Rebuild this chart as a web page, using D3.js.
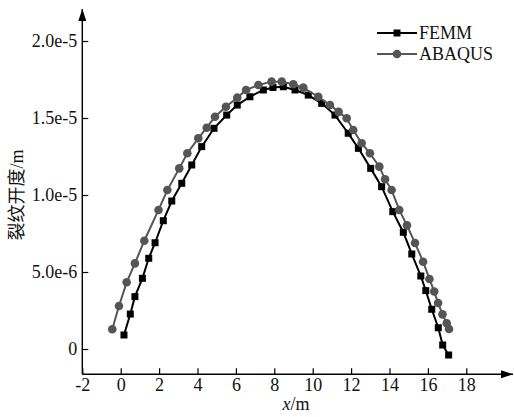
<!DOCTYPE html>
<html>
<head>
<meta charset="utf-8">
<script src="https://cdn.jsdelivr.net/npm/d3@7"></script>
<style>
  body { margin: 0; background: #fff; }
</style>
</head>
<body>
<div id="container"></div>
<script>
/* CONSTANTS AND GLOBALS */
const width = 514, height = 417;
const serif = "'Liberation Serif'";
const cjk = "'Noto Sans CJK SC'";

// FEMM series (x in m, opening in 1e-6 m)
const femmX = [0.17, 0.50, 0.74, 1.13, 1.46, 1.79, 2.22, 2.66, 3.18, 3.70, 4.22, 4.86, 5.52, 6.07, 6.73, 7.43, 7.93, 8.47, 9.08, 9.77, 10.47, 11.16, 11.85, 12.38, 13.02, 13.59, 14.17, 14.72, 15.16, 15.63, 15.89, 16.20, 16.54, 16.77, 17.08];
const femmY = [0.91, 2.27, 3.40, 4.59, 5.89, 6.90, 8.33, 9.61, 10.76, 11.95, 13.14, 14.33, 15.19, 15.84, 16.38, 16.82, 16.98, 17.03, 16.82, 16.49, 15.95, 15.19, 14.01, 13.03, 11.73, 10.54, 8.92, 7.58, 6.17, 4.74, 3.79, 2.58, 1.38, 0.26, -0.39];

// ABAQUS series
const abaqusX = [-0.44, -0.09, 0.31, 0.74, 1.23, 1.97, 2.43, 3.05, 3.47, 4.04, 4.48, 4.91, 5.48, 6.07, 6.53, 7.17, 7.86, 8.39, 8.99, 9.51, 10.29, 10.90, 11.35, 11.77, 12.11, 12.55, 12.98, 13.47, 13.77, 14.11, 14.51, 14.91, 15.33, 15.75, 16.08, 16.33, 16.53, 16.76, 16.98, 17.10];
const abaqusY = [1.28, 2.79, 4.33, 5.56, 7.03, 9.03, 10.32, 11.73, 12.71, 13.68, 14.37, 15.08, 15.73, 16.32, 16.82, 17.14, 17.36, 17.36, 17.19, 16.97, 16.38, 15.84, 15.40, 14.98, 14.22, 13.36, 12.71, 11.84, 11.02, 10.32, 9.03, 8.03, 6.88, 5.67, 4.55, 3.73, 2.99, 2.25, 1.67, 1.30];

// ticks
const xTicks = [-2, 0, 2, 4, 6, 8, 10, 12, 14, 16, 18];
const yTicks = [0, 5e-6, 1e-5, 1.5e-5, 2e-5];
const yTickLabels = ["0", "5.0e-6", "1.0e-5", "1.5e-5", "2.0e-5"];

const seriesNames = ["FEMM", "ABAQUS"];
const seriesColors = ["#000000", "#555555"];

const femm = femmX.map((x, i) => ({x: x, y: femmY[i] * 1e-6}));
const abaqus = abaqusX.map((x, i) => ({x: x, y: abaqusY[i] * 1e-6}));

// SCALES
const xScale = d3.scaleLinear().domain([-2, 18]).range([82.3, 466.3]);
const yScale = d3.scaleLinear().domain([0, 2e-5]).range([349, 41]);

const axisY = 374.3, axisX = 82.3;

// CREATE SVG ELEMENT
const svg = d3.select("#container")
  .append("svg")
  .attr("width", width)
  .attr("height", height);

// arrow heads
svg.append("defs").append("marker")
  .attr("id", "arrow")
  .attr("viewBox", "0 0 12 8")
  .attr("refX", 12).attr("refY", 4)
  .attr("markerWidth", 12).attr("markerHeight", 8)
  .attr("markerUnits", "userSpaceOnUse")
  .attr("orient", "auto")
  .append("path")
  .attr("d", "M0,0 L12,4 L0,8 Z")
  .attr("fill", "#000");

// x-axis
const xAxis = svg.append("g")
  .attr("transform", `translate(0,${axisY})`)
  .call(d3.axisBottom(xScale).tickValues(xTicks).tickSize(-6).tickPadding(4).tickFormat(d => String(d)));
xAxis.select(".domain").remove();
xAxis.selectAll("line").attr("stroke", "#000").attr("stroke-width", 1.2);
xAxis.selectAll("text").attr("font-size", 18).attr("fill", "#111")
  .style("font-family", serif);

svg.append("line")
  .attr("x1", axisX).attr("x2", 513)
  .attr("y1", axisY).attr("y2", axisY)
  .attr("stroke", "#000").attr("stroke-width", 1.4)
  .attr("marker-end", "url(#arrow)");

// y-axis
const yAxis = svg.append("g")
  .attr("transform", `translate(${axisX},0)`)
  .call(d3.axisLeft(yScale).tickValues(yTicks).tickSize(-6).tickPadding(5)
    .tickFormat((d, i) => yTickLabels[i]));
yAxis.select(".domain").remove();
yAxis.selectAll("line").attr("stroke", "#000").attr("stroke-width", 1.2);
yAxis.selectAll("text").attr("font-size", 18).attr("fill", "#111")
  .style("font-family", serif);

svg.append("line")
  .attr("x1", axisX).attr("x2", axisX)
  .attr("y1", axisY).attr("y2", 9)
  .attr("stroke", "#000").attr("stroke-width", 1.4)
  .attr("marker-end", "url(#arrow)");

// axis titles
const xTitle = svg.append("text")
  .attr("x", 296).attr("y", 410)
  .attr("text-anchor", "middle")
  .attr("font-size", 18).attr("fill", "#111")
  .style("font-family", serif);
xTitle.append("tspan").attr("font-style", "italic").text("x");
xTitle.append("tspan").text("/m");

const yTitle = svg.append("text")
  .attr("transform", "translate(23,195) rotate(-90)")
  .attr("text-anchor", "middle")
  .attr("font-size", 18).attr("fill", "#111");
yTitle.append("tspan").style("font-family", cjk).text("裂纹开度");
yTitle.append("tspan").style("font-family", serif).text("/m");

// lines
const line = d3.line()
  .x(d => xScale(d.x))
  .y(d => yScale(d.y));

// FEMM
svg.append("path")
  .datum(femm)
  .attr("fill", "none")
  .attr("stroke", seriesColors[0])
  .attr("stroke-width", 2)
  .attr("d", line);
svg.append("g").selectAll("rect")
  .data(femm)
  .join("rect")
  .attr("x", d => xScale(d.x) - 3.5)
  .attr("y", d => yScale(d.y) - 3.5)
  .attr("width", 7).attr("height", 7)
  .attr("fill", seriesColors[0]);

// ABAQUS
svg.append("path")
  .datum(abaqus)
  .attr("fill", "none")
  .attr("stroke", seriesColors[1])
  .attr("stroke-width", 2)
  .attr("d", line);
svg.append("g").selectAll("circle")
  .data(abaqus)
  .join("circle")
  .attr("cx", d => xScale(d.x))
  .attr("cy", d => yScale(d.y))
  .attr("r", 4.3)
  .attr("fill", seriesColors[1]);

// legend
const legend = svg.append("g");
seriesNames.forEach((name, i) => {
  const y = 33 + i * 21;
  legend.append("line")
    .attr("x1", 377).attr("x2", 417)
    .attr("y1", y).attr("y2", y)
    .attr("stroke", seriesColors[i]).attr("stroke-width", 2);
  if (i === 0) {
    legend.append("rect")
      .attr("x", 397 - 3.5).attr("y", y - 3.5)
      .attr("width", 7).attr("height", 7)
      .attr("fill", seriesColors[i]);
  } else {
    legend.append("circle")
      .attr("cx", 397).attr("cy", y).attr("r", 4.3)
      .attr("fill", seriesColors[i]);
  }
  legend.append("text")
    .attr("x", 419).attr("y", y)
    .attr("dy", "0.36em")
    .attr("font-size", 18).attr("fill", "#111")
    .style("font-family", serif)
    .text(name);
});
</script>
</body>
</html>
